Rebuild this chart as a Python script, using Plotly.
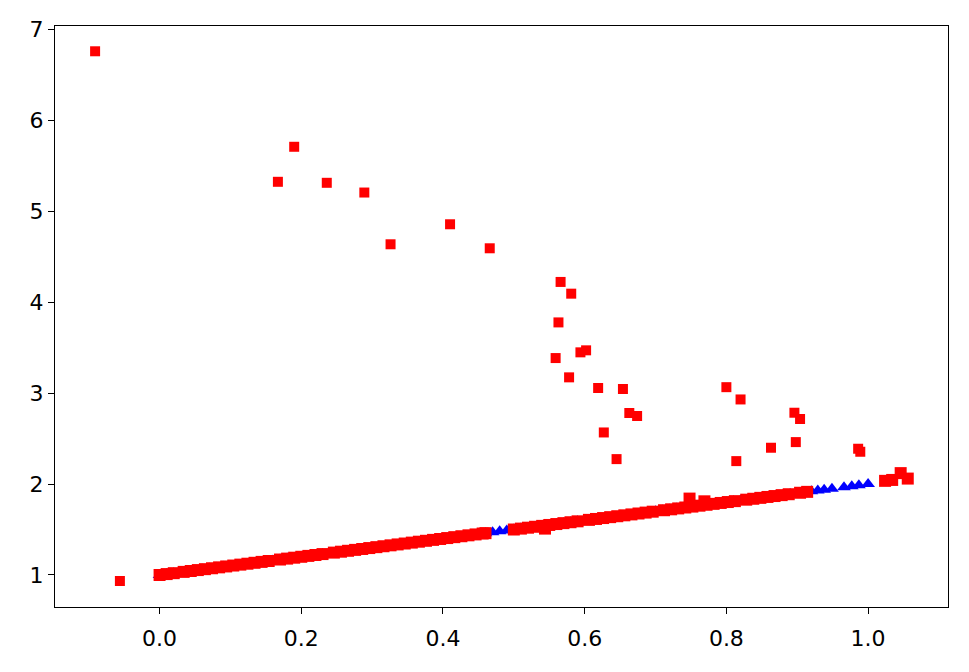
import plotly.graph_objects as go

# blue triangles along the line
blue_x = [0.00, 0.01, 0.02, 0.03, 0.04, 0.05, 0.06, 0.07, 0.08, 0.09,
          0.10, 0.11, 0.12, 0.13, 0.14, 0.15, 0.16, 0.17, 0.18, 0.19,
          0.20, 0.21, 0.22, 0.23, 0.24, 0.25, 0.26, 0.27, 0.28, 0.29,
          0.30, 0.31, 0.32, 0.33, 0.34, 0.35, 0.36, 0.37, 0.38, 0.39,
          0.40, 0.41, 0.42, 0.43, 0.44, 0.45, 0.46, 0.47, 0.48, 0.49,
          0.50, 0.51, 0.52, 0.53, 0.54, 0.55, 0.56, 0.57, 0.58, 0.59,
          0.60, 0.61, 0.62, 0.63, 0.64, 0.65, 0.66, 0.67, 0.68, 0.69,
          0.70, 0.71, 0.72, 0.73, 0.74, 0.75, 0.76, 0.77, 0.78, 0.79,
          0.80, 0.81, 0.82, 0.83, 0.84, 0.85, 0.86, 0.87, 0.88, 0.89,
          0.90, 0.91, 0.92, 0.929, 0.938, 0.949, 0.966, 0.977, 0.987, 1.000]
blue_y = [1.00, 1.01, 1.02, 1.03, 1.04, 1.05, 1.06, 1.07, 1.08, 1.09,
          1.10, 1.11, 1.12, 1.13, 1.14, 1.15, 1.16, 1.17, 1.18, 1.19,
          1.20, 1.21, 1.22, 1.23, 1.24, 1.25, 1.26, 1.27, 1.28, 1.29,
          1.30, 1.31, 1.32, 1.33, 1.34, 1.35, 1.36, 1.37, 1.38, 1.39,
          1.40, 1.41, 1.42, 1.43, 1.44, 1.45, 1.46, 1.47, 1.48, 1.49,
          1.50, 1.51, 1.52, 1.53, 1.54, 1.55, 1.56, 1.57, 1.58, 1.59,
          1.60, 1.61, 1.62, 1.63, 1.64, 1.65, 1.66, 1.67, 1.68, 1.69,
          1.70, 1.71, 1.72, 1.73, 1.74, 1.75, 1.76, 1.77, 1.78, 1.79,
          1.80, 1.81, 1.82, 1.83, 1.84, 1.85, 1.86, 1.87, 1.88, 1.89,
          1.90, 1.91, 1.92, 1.929, 1.938, 1.949, 1.966, 1.977, 1.987, 2.000]

# red squares on (or near) the line
red_line_x = [0.000, 0.010, 0.020, 0.034, 0.044, 0.054, 0.064, 0.074, 0.084, 0.094,
              0.104, 0.114, 0.124, 0.134, 0.144, 0.154, 0.170, 0.180, 0.190, 0.200,
              0.210, 0.220, 0.230, 0.246, 0.256, 0.266, 0.276, 0.286, 0.296, 0.306,
              0.316, 0.326, 0.336, 0.346, 0.356, 0.366, 0.376, 0.386, 0.396, 0.406,
              0.416, 0.426, 0.436, 0.446, 0.456, 0.460, 0.500, 0.510, 0.520, 0.530,
              0.540, 0.544, 0.550, 0.560, 0.570, 0.580, 0.590, 0.606, 0.616, 0.626,
              0.636, 0.646, 0.656, 0.666, 0.676, 0.686, 0.696, 0.712, 0.722, 0.732,
              0.742, 0.748, 0.752, 0.762, 0.769, 0.772, 0.782, 0.792, 0.802, 0.812,
              0.828, 0.838, 0.848, 0.858, 0.868, 0.878, 0.888, 0.904, 0.914,
              1.024, 1.034, 1.046, 1.056]
red_line_y = [1.000, 1.010, 1.020, 1.034, 1.044, 1.054, 1.064, 1.074, 1.084, 1.094,
              1.104, 1.114, 1.124, 1.134, 1.144, 1.154, 1.170, 1.180, 1.190, 1.200,
              1.210, 1.220, 1.230, 1.246, 1.256, 1.266, 1.276, 1.286, 1.296, 1.306,
              1.316, 1.326, 1.336, 1.346, 1.356, 1.366, 1.376, 1.386, 1.396, 1.406,
              1.416, 1.426, 1.436, 1.446, 1.456, 1.460, 1.500, 1.510, 1.520, 1.530,
              1.540, 1.510, 1.550, 1.560, 1.570, 1.580, 1.590, 1.606, 1.616, 1.626,
              1.636, 1.646, 1.656, 1.666, 1.676, 1.686, 1.696, 1.712, 1.722, 1.732,
              1.742, 1.840, 1.752, 1.762, 1.810, 1.772, 1.782, 1.792, 1.802, 1.812,
              1.828, 1.838, 1.848, 1.858, 1.868, 1.878, 1.888, 1.904, 1.914,
              2.035, 2.045, 2.120, 2.060]

# red squares far from the line
out_x = [-0.091, -0.056, 0.167, 0.190, 0.236, 0.289, 0.326, 0.410, 0.466, 0.566,
         0.581, 0.563, 0.559, 0.594, 0.602, 0.578, 0.619, 0.654, 0.663, 0.674,
         0.627, 0.645, 0.800, 0.820, 0.814, 0.863, 0.896, 0.904, 0.898, 0.986, 0.989]
out_y = [6.758, 0.934, 5.323, 5.708, 5.312, 5.205, 4.636, 4.856, 4.592, 4.222,
         4.093, 3.777, 3.385, 3.448, 3.470, 3.173, 3.056, 3.045, 2.781, 2.748,
         2.567, 2.274, 3.065, 2.930, 2.252, 2.399, 2.784, 2.715, 2.461, 2.388, 2.355]

fig = go.Figure()
fig.add_trace(go.Scatter(x=blue_x, y=blue_y, mode='markers',
                         marker=dict(symbol='triangle-up', size=12, color='#0000ff', line=dict(width=0))))
fig.add_trace(go.Scatter(x=red_line_x, y=red_line_y, mode='markers',
                         marker=dict(symbol='square', size=12, color='#ff0000', line=dict(width=0))))
fig.add_trace(go.Scatter(x=out_x, y=out_y, mode='markers',
                         marker=dict(symbol='square', size=10, color='#ff0000', line=dict(width=0))))

axis_style = dict(showgrid=False, zeroline=False, showline=True, mirror=True,
                  linecolor='black', linewidth=1.3, ticks='outside', ticklen=6,
                  tickwidth=1.3, tickcolor='black', automargin=False)
fig.update_xaxes(range=[-0.1476, 1.1128], tick0=0, dtick=0.2, tickformat='.1f',
                 ticklabelstandoff=5, **axis_style)
fig.update_yaxes(range=[0.648, 7.036], tick0=1, dtick=1, **axis_style)
# page body adds 8px, so the figure is 8px smaller and margins shifted
fig.update_layout(width=961, height=664, showlegend=False,
                  plot_bgcolor='white', paper_bgcolor='white',
                  font=dict(family='DejaVu Sans', size=22, color='black'),
                  margin=dict(l=47, r=21, t=18, b=65))
fig.write_html("out.html")
